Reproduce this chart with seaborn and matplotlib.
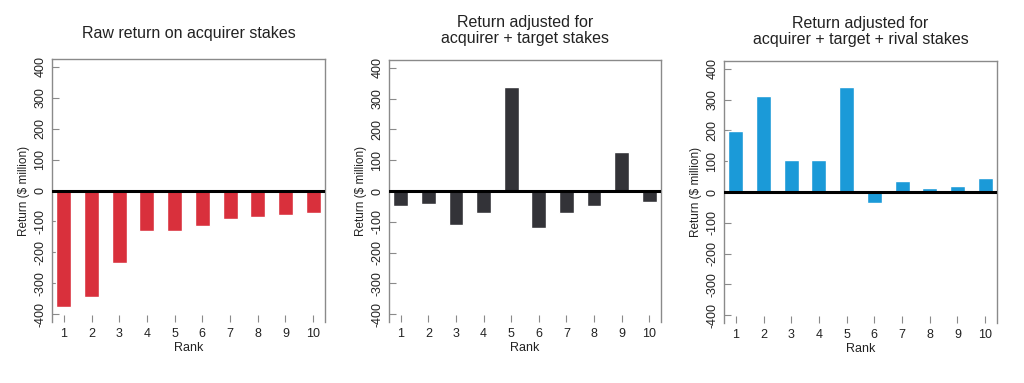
import pandas as pd
import matplotlib.pyplot as plt
import seaborn as sns

# --- Data ---
ranks = [1, 2, 3, 4, 5, 6, 7, 8, 9, 10]
raw_return = [-375, -345, -234, -130, -130, -114, -92, -86, -78, -73]
acq_target = [-49, -43, -109, -72, 338, -120, -72, -49, 125, -36]
acq_target_rival = [198, 313, 104, 104, 341, -36, 36, 12, 20, 47]

titles = ['Raw return on acquirer stakes',
          'Return adjusted for\nacquirer + target stakes',
          'Return adjusted for\nacquirer + target + rival stakes']
colors = ['#d9303c', '#333338', '#1b9ad8']
y_ticks = [-400, -300, -200, -100, 0, 100, 200, 300, 400]

# --- Style ---
sns.set_theme(style="white")
plt.rcParams['font.family'] = ['Liberation Sans', 'DejaVu Sans']
text_color = '#222222'
frame_color = '#8a8a8a'

fig = plt.figure(figsize=(10.24, 3.83), dpi=100)
positions = [
    [52 / 1024, 61 / 383, 273 / 1024, 263 / 383],
    [389 / 1024, 61 / 383, 272 / 1024, 262 / 383],
    [724 / 1024, 60 / 383, 273 / 1024, 262 / 383],
]
title_pads = [15, 12, 12]

for pos, values, title, color, tpad in zip(positions, [raw_return, acq_target, acq_target_rival],
                                           titles, colors, title_pads):
    ax = fig.add_axes(pos)
    df = pd.DataFrame({'Rank': ranks, 'Return': values})
    sns.barplot(data=df, x='Rank', y='Return', color=color, width=0.54,
                saturation=1, ax=ax)
    ax.axhline(0, color='black', lw=2.2, zorder=5)

    ax.set_ylim(-425, 425)
    ax.set_xlim(-0.43, 9.43)
    ax.set_yticks(y_ticks)
    ax.set_yticklabels([str(t) for t in y_ticks], rotation=90, va='center',
                       fontsize=9, color=text_color)
    ax.tick_params(axis='x', labelsize=9, labelcolor=text_color)
    ax.tick_params(axis='both', direction='in', length=5, width=0.8,
                   color=frame_color, pad=4, bottom=True, left=True)

    for side in ['top', 'right', 'left']:
        ax.spines[side].set_color(frame_color)
        ax.spines[side].set_linewidth(1.0)
    ax.spines['bottom'].set_visible(False)

    ax.set_xlabel('Rank', fontsize=9, color=text_color, labelpad=2)
    ax.set_ylabel('Return ($ million)', fontsize=8.5, color=text_color, labelpad=3)
    ax.set_title(title, fontsize=11.5, color=text_color, pad=tpad, linespacing=1.1)

fig.savefig('out.png', dpi=100)
